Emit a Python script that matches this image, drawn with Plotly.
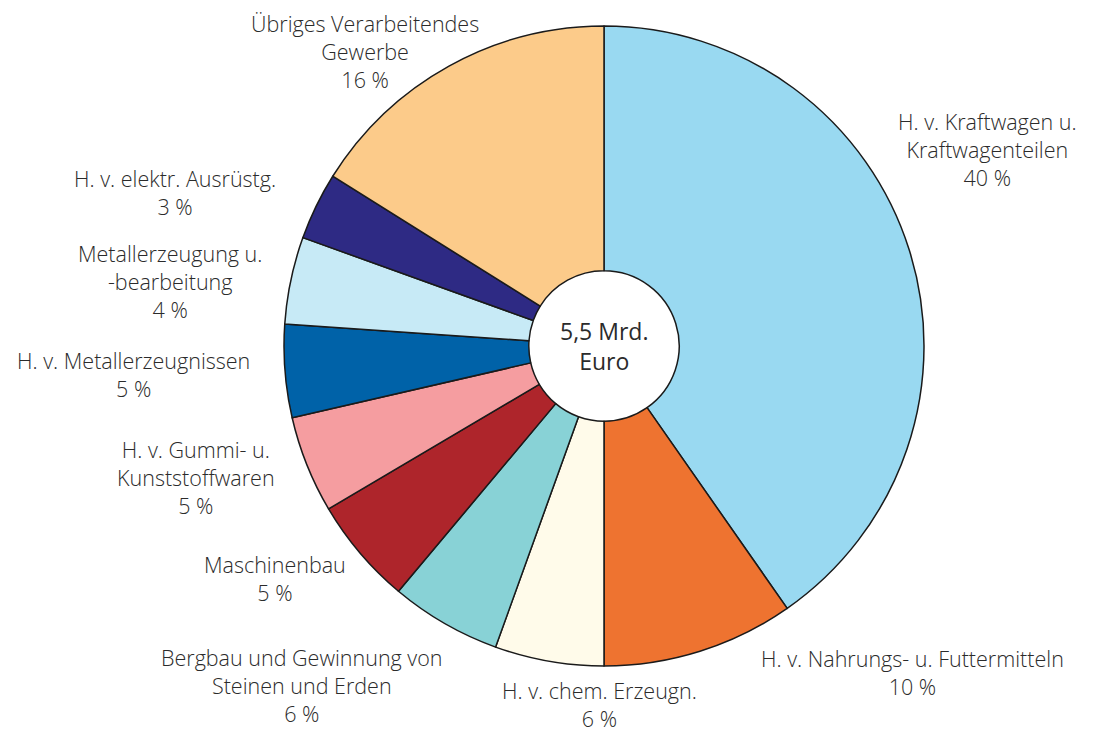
import plotly.graph_objects as go

categories = [
    "H. v. Kraftwagen u.<br>Kraftwagenteilen",
    "H. v. Nahrungs- u. Futtermitteln",
    "H. v. chem. Erzeugn.",
    "Bergbau und Gewinnung von<br>Steinen und Erden",
    "Maschinenbau",
    "H. v. Gummi- u.<br>Kunststoffwaren",
    "H. v. Metallerzeugnissen",
    "Metallerzeugung u.<br>-bearbeitung",
    "H. v. elektr. Ausrüstg.",
    "Übriges Verarbeitendes<br>Gewerbe",
]
values = [40.3, 9.7, 5.5, 5.6, 5.4, 4.9, 4.7, 4.4, 3.4, 16.1]
pct_labels = ["40 %", "10 %", "6 %", "6 %", "5 %", "5 %", "5 %", "4 %", "3 %", "16 %"]
colors = ["#99d9f1", "#ee7330", "#fffbea", "#88d2d6", "#ae252b",
          "#f59da0", "#0062a8", "#c7eaf6", "#2e2a84", "#fccb8a"]

# label block centers in pixels (x, y) of the target picture
label_pos = [(987, 149), (912, 672), (600, 704), (302, 685), (275, 578),
             (196, 477), (133, 375), (170, 281), (175, 193), (365, 51)]

W, H = 1101, 731
OFF = 8  # page body margin
cx, cy, r = 604, 346, 320

def px(x):
    return (x - OFF) / W

def py(y):
    return 1 - (y - OFF) / H

fig = go.Figure(go.Pie(
    labels=categories, values=values, sort=False, direction="clockwise",
    rotation=0, hole=0.235, textinfo="none", hoverinfo="label+value",
    marker=dict(colors=colors, line=dict(color="#1a1a1a", width=1.5)),
    domain=dict(x=[px(cx - r), px(cx + r)], y=[py(cy + r), py(cy - r)]),
    showlegend=False,
))

font = dict(family="Open Sans", size=21.5, color="#2b2b2b", weight=350)
anns = []
for cat, p, (x, y) in zip(categories, pct_labels, label_pos):
    anns.append(dict(text=f"{cat}<br>{p}", x=px(x), y=py(y), xref="paper", yref="paper",
                     xanchor="center", yanchor="middle", align="center", showarrow=False,
                     font=font))
anns.append(dict(text="5,5 Mrd.<br>Euro", x=px(cx), y=py(cy), xref="paper", yref="paper",
                 xanchor="center", yanchor="middle", align="center", showarrow=False,
                 font=dict(family="Open Sans", size=23, color="#2b2b2b", weight=400)))

fig.update_layout(width=W, height=H, margin=dict(l=0, r=0, t=0, b=0),
                  paper_bgcolor="white", plot_bgcolor="white", annotations=anns)
fig.write_html("out.html")
